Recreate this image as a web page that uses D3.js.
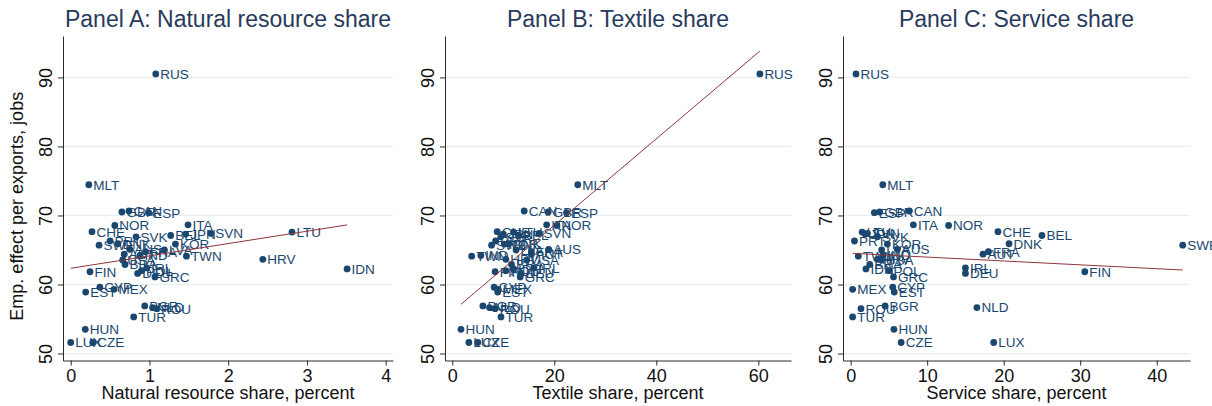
<!DOCTYPE html>
<html>
<head>
<meta charset="utf-8">
<script src="https://cdn.jsdelivr.net/npm/d3@7"></script>
<style>
  html, body { margin: 0; padding: 0; background: #fff; }
  svg { display: block; font-family: "Liberation Sans", Arial, Helvetica, sans-serif; }
</style>
</head>
<body>
<svg id="chart" width="1212" height="406"></svg>
<script>
// Employment effect per unit of exports vs. export composition, by country
const countries = ["AUS","AUT","BEL","BGR","BRA","CAN","CHE","CYP","CZE","DEU","DNK","ESP","EST","FIN","FRA","GBR","GRC","HRV","HUN","IDN","IND","IRL","ITA","JPN","KOR","LTU","LUX","LVA","MEX","MLT","NLD","NOR","POL","PRT","ROU","RUS","SVK","SVN","SWE","TUR","TWN","USA"];
const empEffect = [65.1,64.4,67.1,56.9,62.9,70.65,67.65,59.6,51.6,61.6,65.9,70.4,58.9,61.85,64.75,70.5,61.1,63.65,53.5,62.25,64.2,62.4,68.65,67.3,65.85,67.6,51.6,65.0,59.3,74.45,56.65,68.55,62.0,66.3,56.5,90.5,66.9,67.4,65.7,55.3,64.1,63.55];
const natResShare = [0.75,0.68,1.27,0.94,0.69,0.74,0.27,0.37,0.28,0.85,0.6,0.99,0.19,0.245,0.95,0.65,1.07,2.44,0.185,3.51,0.88,0.965,1.49,1.46,1.33,2.81,0.0,1.19,0.55,0.23,1.04,0.56,0.9,0.5,1.09,1.08,0.83,1.78,0.36,0.80,1.47,0.66];
const textileShare = [18.9,15.5,13.0,6.0,11.6,14.1,8.8,8.2,5.0,13.5,11.0,22.4,8.9,8.4,15.5,18.8,13.3,10.5,1.7,12.0,5.6,16.0,18.5,10.0,10.2,12.0,3.25,12.5,9.0,24.6,7.3,20.5,10.5,8.5,8.4,60.3,9.5,17.0,7.7,9.55,3.8,14.6];
const serviceShare = [6.1,17.3,25.0,4.5,2.5,7.66,19.25,5.5,6.6,15.0,20.7,3.1,5.7,30.6,18.0,3.8,5.6,3.5,5.66,2.0,4.2,15.0,8.2,1.9,4.8,1.5,18.7,4.05,0.26,4.2,16.5,12.8,5.0,0.5,1.35,0.7,3.5,2.2,43.4,0.26,1.0,4.0];

// Linear fit per panel: intercept and slope
const fitIntercept = [62.35, 56.07, 64.53];
const fitSlope = [1.79, 0.626, -0.056];

const panelTitles = ["Panel A: Natural resource share", "Panel B: Textile share", "Panel C: Service share"];
const xTitles = ["Natural resource share, percent", "Textile share, percent", "Service share, percent"];
const xTicksA = [0, 1, 2, 3, 4];
const xTicksB = [0, 20, 40, 60];
const xTicksC = [0, 10, 20, 30, 40];
const yTicks = [50, 60, 70, 80, 90];
const yTitle = "Emp. effect per exports, jobs";

const NAVY = "#1a476f";
const FIT = "#90353b";
const GRID = "#e8eff1";
const AXIS = "#2a2a2a";

const svg = d3.select("#chart");

const panels = [
  { xs: natResShare,  ticks: xTicksA, dom: [-0.098, 4.093], left: 63,  right: 393 },
  { xs: textileShare, ticks: xTicksB, dom: [-1.43, 66.4],   left: 445, right: 791 },
  { xs: serviceShare, ticks: xTicksC, dom: [-1.0, 44.35],   left: 843, right: 1190 }
];

const plotTop = 36, plotBottom = 360.5;
const y = d3.scaleLinear().domain([48.99, 96.0]).range([plotBottom, plotTop]);

panels.forEach((p, i) => {
  const x = d3.scaleLinear().domain(p.dom).range([p.left, p.right]);
  const g = svg.append("g");

  // horizontal gridlines
  g.append("g").selectAll("line").data(yTicks).join("line")
    .attr("x1", p.left).attr("x2", p.right)
    .attr("y1", d => y(d)).attr("y2", d => y(d))
    .attr("stroke", GRID).attr("stroke-width", 1.3);

  // y axis
  const ya = g.append("g").attr("transform", `translate(${p.left},0)`)
    .call(d3.axisLeft(y).tickValues(yTicks).tickSize(5).tickSizeOuter(0));
  ya.select(".domain").attr("stroke", AXIS);
  ya.selectAll(".tick line").attr("stroke", AXIS);
  ya.selectAll(".tick text")
    .attr("transform", "rotate(-90)")
    .attr("x", 0).attr("y", -11.5).attr("dy", 0)
    .attr("text-anchor", "middle")
    .attr("fill", "#111")
    .style("font-size", "18px");

  // x axis
  const xa = g.append("g").attr("transform", `translate(0,${plotBottom})`)
    .call(d3.axisBottom(x).tickValues(p.ticks).tickSize(5).tickSizeOuter(0).tickFormat(d3.format("d")));
  xa.select(".domain").attr("stroke", AXIS);
  xa.selectAll(".tick line").attr("stroke", AXIS);
  xa.selectAll(".tick text")
    .attr("y", 21.5).attr("dy", 0)
    .attr("fill", "#111")
    .style("font-size", "18px");

  // titles
  const cx = (p.left + p.right) / 2;
  g.append("text").attr("x", cx).attr("y", 27)
    .attr("text-anchor", "middle").attr("fill", "#283a5b")
    .style("font-size", "23px").text(panelTitles[i]);
  g.append("text").attr("x", cx).attr("y", 399)
    .attr("text-anchor", "middle").attr("fill", "#111")
    .style("font-size", "18px").text(xTitles[i]);

  // scatter points with country labels
  const pts = countries.map((c, k) => ({ c, xv: p.xs[k], yv: empEffect[k] }));
  g.append("g").selectAll("circle").data(pts).join("circle")
    .attr("cx", d => x(d.xv)).attr("cy", d => y(d.yv)).attr("r", 3.4)
    .attr("fill", NAVY);
  g.append("g").selectAll("text").data(pts).join("text")
    .attr("x", d => x(d.xv) + 4.5).attr("y", d => y(d.yv))
    .attr("dy", "0.36em")
    .attr("fill", NAVY)
    .style("font-size", "13.5px")
    .text(d => d.c);

  // fitted line across observed range
  const [xmin, xmax] = d3.extent(p.xs);
  const line = d3.line().x(d => x(d)).y(d => y(fitIntercept[i] + fitSlope[i] * d));
  g.append("path").datum([xmin, xmax]).attr("d", line)
    .attr("fill", "none").attr("stroke", FIT).attr("stroke-width", 1);
});

// shared y-axis title
svg.append("text")
  .attr("transform", `translate(23,${(plotTop + plotBottom) / 2 + 8}) rotate(-90)`)
  .attr("text-anchor", "middle").attr("fill", "#111")
  .style("font-size", "18px").text(yTitle);
</script>
</body>
</html>
